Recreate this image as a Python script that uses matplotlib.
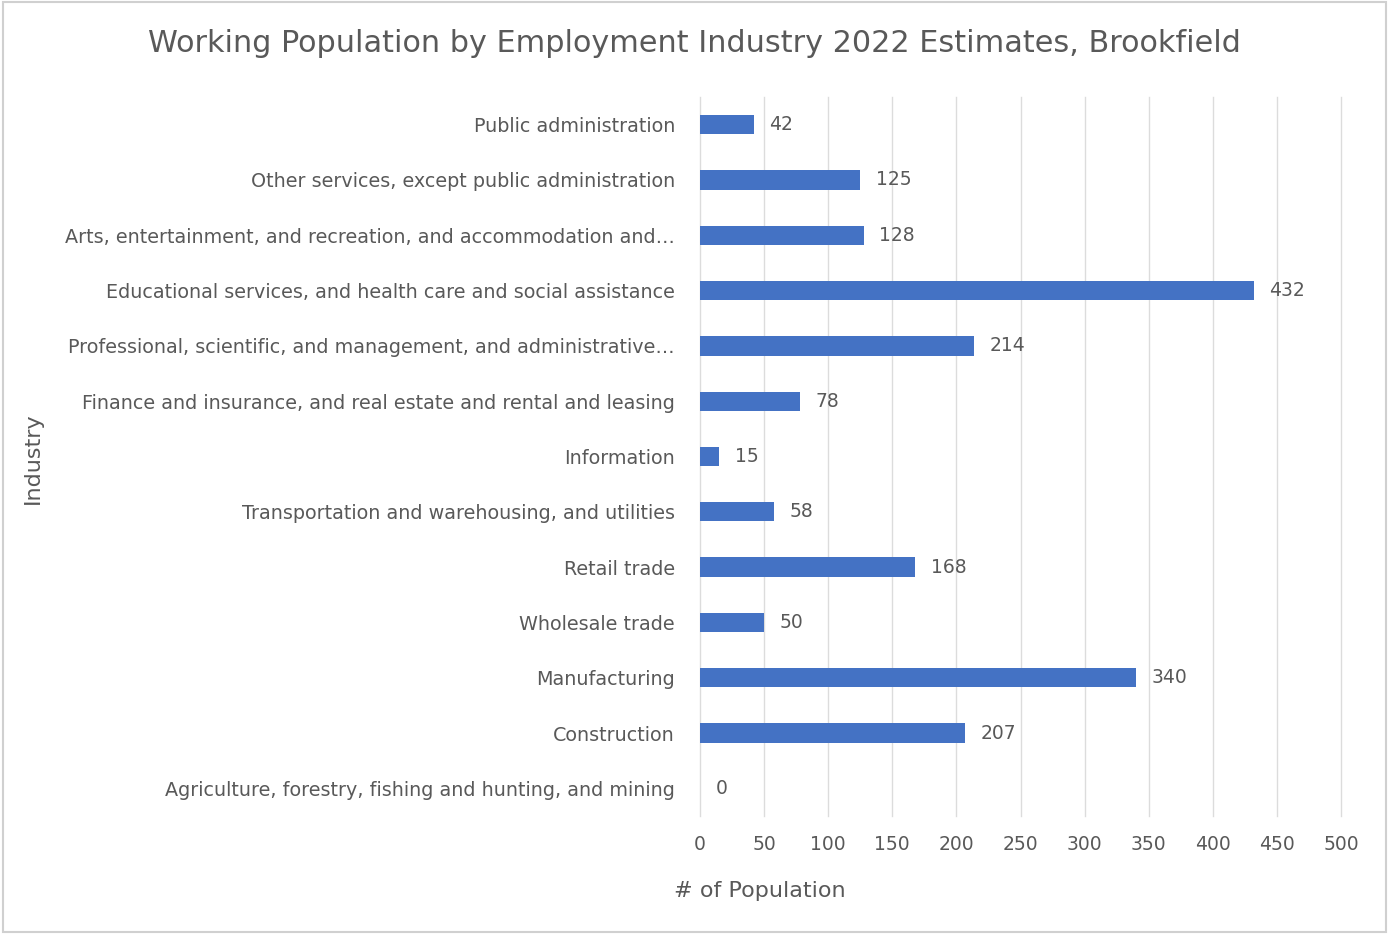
import matplotlib
matplotlib.use("Agg")
import matplotlib.pyplot as plt
from matplotlib.patches import Rectangle

categories = [
    "Agriculture, forestry, fishing and hunting, and mining",
    "Construction",
    "Manufacturing",
    "Wholesale trade",
    "Retail trade",
    "Transportation and warehousing, and utilities",
    "Information",
    "Finance and insurance, and real estate and rental and leasing",
    "Professional, scientific, and management, and administrative\u2026",
    "Educational services, and health care and social assistance",
    "Arts, entertainment, and recreation, and accommodation and\u2026",
    "Other services, except public administration",
    "Public administration",
]
values = [0, 207, 340, 50, 168, 58, 15, 78, 214, 432, 128, 125, 42]
xticks = [0, 50, 100, 150, 200, 250, 300, 350, 400, 450, 500]

W, H = 1389, 934
fig = plt.figure(figsize=(W / 100, H / 100), dpi=100)
plt.rcParams['font.family'] = ['DejaVu Sans']
txt = '#595959'

ax = fig.add_axes([700 / W, 1 - 816 / H, 641 / W, 719 / H])
pos = list(range(len(categories)))
ax.barh(pos, values, height=0.35, color='#4472C4', zorder=3)
ax.set_ylim(-0.5, len(categories) - 0.5)
ax.set_xlim(0, 500)
ax.set_xticks(xticks)
ax.set_xticklabels([str(t) for t in xticks], color=txt, fontsize=13.5)
ax.set_yticks(pos)
ax.set_yticklabels(categories, color=txt, fontsize=13.8)
ax.tick_params(length=0)
ax.tick_params(axis='x', pad=14)
ax.tick_params(axis='y', pad=18)
for s in ax.spines.values():
    s.set_visible(False)
for t in xticks:
    ax.axvline(t, color='#dcdcdc', linewidth=1, zorder=0, clip_on=False)
for p, v in zip(pos, values):
    ax.annotate(str(v), (v, p), xytext=(11, 0), textcoords='offset points',
                va='center', ha='left', color=txt, fontsize=13.5)

fig.text(694 / W, 1 - 44 / H, "Working Population by Employment Industry 2022 Estimates, Brookfield",
         ha='center', va='center', color=txt, fontsize=21.8)
fig.text(760 / W, 1 - 891 / H, "# of Population", ha='center', va='center', color=txt, fontsize=16)
fig.text(33 / W, 1 - 458 / H, "Industry", ha='center', va='center', rotation=90, color=txt, fontsize=16)

fig.patches.append(Rectangle((0.002, 0.002), 0.996, 0.996, transform=fig.transFigure,
                             fill=False, edgecolor='#d0d0d0', linewidth=1.5))
fig.savefig("out.png", dpi=100)
